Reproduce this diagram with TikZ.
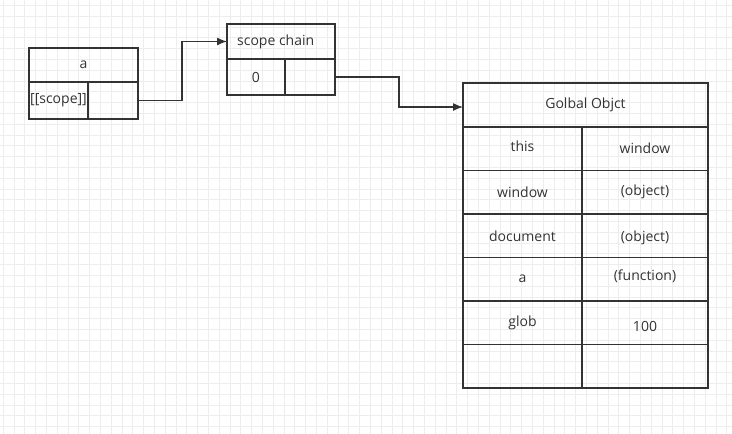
\documentclass[tikz,border=0pt]{standalone}
\usepackage{fontspec}
\setmainfont{Open Sans}
\usetikzlibrary{arrows.meta}
\definecolor{ink}{HTML}{333333}
\definecolor{gridc}{HTML}{EDEDED}
\newcommand{\linew}{1.3pt}
\newcommand{\cellfont}{\fontsize{14}{16}\selectfont}
\newcommand{\gstep}{10.8}

\begin{document}
\begin{tikzpicture}[x=1pt,y=-1pt]
    \tikzset{cell/.style={draw=ink, line width=\linew, inner sep=0pt, outer sep=0pt, anchor=north west, font=\cellfont, text=ink}}
    \tikzset{txt/.style={inner sep=0pt, font=\cellfont, text=ink}}
    \tikzset{link/.style={draw=ink, line width=\linew, -{Latex[length=10pt,width=8pt]}}}
    \useasboundingbox (0,0) rectangle (732,434);
    % background grid
    \foreach \i in {0,...,67}
        \draw[gridc, line width=0.8pt] ({3.2+\i*\gstep},0) -- ++(0,434);
    \foreach \j in {0,...,39}
        \draw[gridc, line width=0.8pt] (0,{5.4+\j*\gstep}) -- ++(732,0);

    % function object a
    \node[cell, minimum width=109pt, minimum height=34pt] (ahead) at (29,48) {a};
    \node[cell, minimum width=59pt, minimum height=37pt] (akey) at (29,82) {[[scope]]};
    \node[cell, minimum width=50pt, minimum height=37pt] (aptr) at (88,82) {};

    % scope chain
    \node[cell, minimum width=108pt, minimum height=35pt] (chead) at (227,24) {};
    \node[txt, anchor=west] (ctitle) at ([xshift=10pt]chead.west) {scope chain};
    \node[cell, minimum width=58pt, minimum height=36pt] (czero) at (227,59) {0};
    \node[cell, minimum width=50pt, minimum height=36pt] (cptr) at (285,59) {};

    % global object
    \node[cell, minimum width=245pt, minimum height=44pt] (ghead) at (463,83) {Golbal Objct};
    \foreach \k/\v/\dk/\dv [count=\i] in {this/window/3/1, window/{(object)}/0/0,
            document/{(object)}/0/-2, a/{(function)}/0/3.5, glob/100/0/-3.5, {}/{}/0/0} {
        \node[cell, minimum width=119pt, minimum height=43.5pt] (k\i) at ({463},{127+(\i-1)*43.5}) {};
        \node[cell, minimum width=126pt, minimum height=43.5pt] (v\i) at ({582},{127+(\i-1)*43.5}) {};
        \node[txt] (kt\i) at ([yshift=\dk pt]k\i.center) {\k};
        \node[txt] (vt\i) at ([yshift=\dv pt]v\i.center) {\v};
    }

    % pointers
    \draw[link] (aptr.east) -- ++(44,0) |- (chead.west);
    \draw[link] (cptr.east) -- ++(64,0) |- ([yshift=-2pt]ghead.west);
\end{tikzpicture}
\end{document}
